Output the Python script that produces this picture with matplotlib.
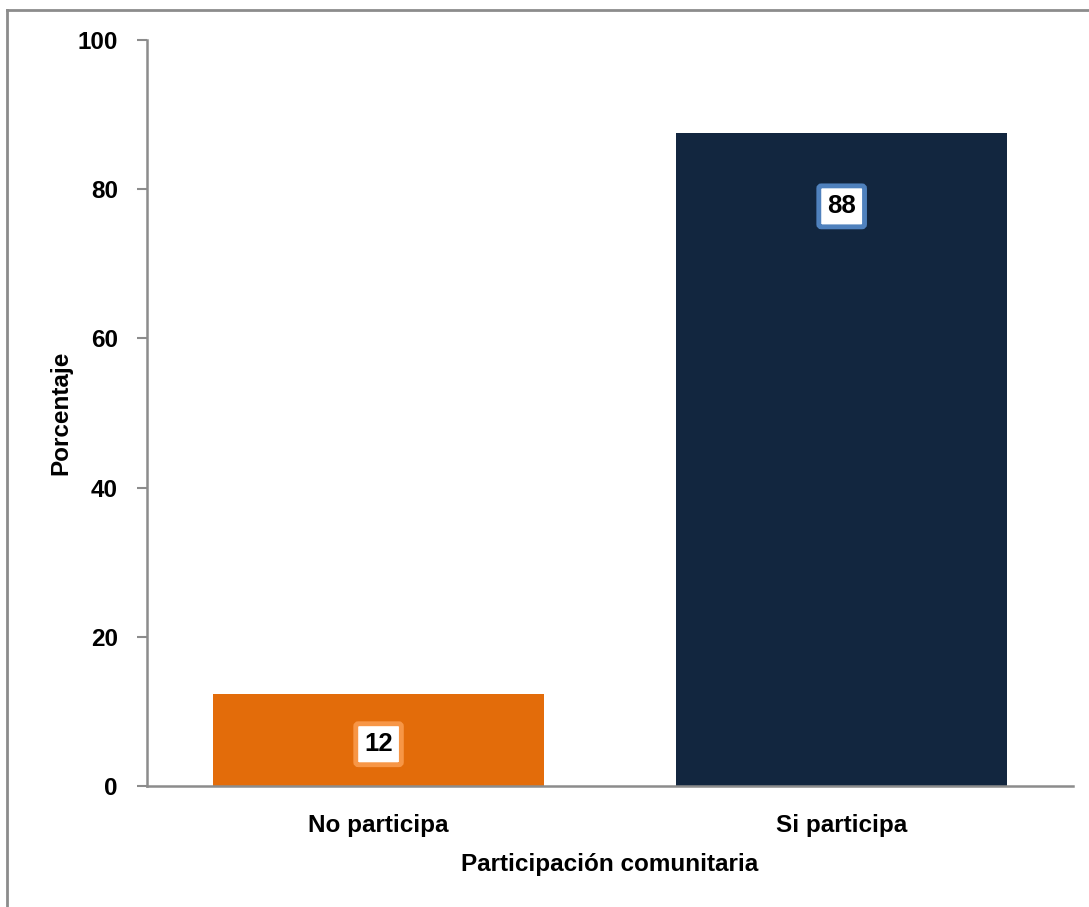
import matplotlib.pyplot as plt
from matplotlib.lines import Line2D

# Data
categories = ['No participa', 'Si participa']
values = [12.4, 87.6]
labels = ['12', '88']
label_pos = [5.6, 77.7]
bar_colors = ['#E36C0A', '#12263F']
box_edges = ['#F79646', '#4F81BD']

plt.rcParams['font.family'] = ['Liberation Sans', 'DejaVu Sans']
plt.rcParams['font.weight'] = 'bold'

fig = plt.figure(figsize=(10.89, 9.07), dpi=100)
ax = fig.add_axes([0.135, 0.1334, 0.8505, 0.8225])

x = range(len(categories))
ax.bar(x, values, width=0.715, color=bar_colors, zorder=2)

for xi, lab, yp, ec in zip(x, labels, label_pos, box_edges):
    ax.text(xi, yp, lab, ha='center', va='center', fontsize=18.5, fontweight='bold',
            color='black', zorder=3,
            bbox=dict(boxstyle='round,pad=0.33,rounding_size=0.1', facecolor='white',
                      edgecolor=ec, linewidth=3.5))

ax.set_xlim(-0.5, 1.5)
ax.set_ylim(0, 100)
ax.set_yticks([0, 20, 40, 60, 80, 100])
ax.set_xticks(list(x))
ax.set_xticklabels(categories)

for s in ['top', 'right']:
    ax.spines[s].set_visible(False)
for s in ['left', 'bottom']:
    ax.spines[s].set_color('#8c8c8c')
    ax.spines[s].set_linewidth(1.8)

ax.tick_params(axis='y', direction='out', length=7, width=1.5, color='#8c8c8c',
               labelsize=17.5, pad=14)
ax.tick_params(axis='x', length=0, labelsize=17.5, pad=20)
for t in ax.get_xticklabels() + ax.get_yticklabels():
    t.set_fontweight('bold')

ax.set_ylabel('Porcentaje', fontsize=17.5, fontweight='bold', labelpad=4)
ax.set_xlabel('Participación comunitaria', fontsize=17.5, fontweight='bold', labelpad=12)

# Outer border (only top and left visible in the reference)
fig.lines.append(Line2D([7 / 1089, 7 / 1089], [0, 1 - 9.5 / 907],
                        transform=fig.transFigure, color='#8c8c8c', linewidth=2))
fig.lines.append(Line2D([7 / 1089, 1], [1 - 9.5 / 907, 1 - 9.5 / 907],
                        transform=fig.transFigure, color='#8c8c8c', linewidth=2))

fig.savefig('out.png', dpi=100)
